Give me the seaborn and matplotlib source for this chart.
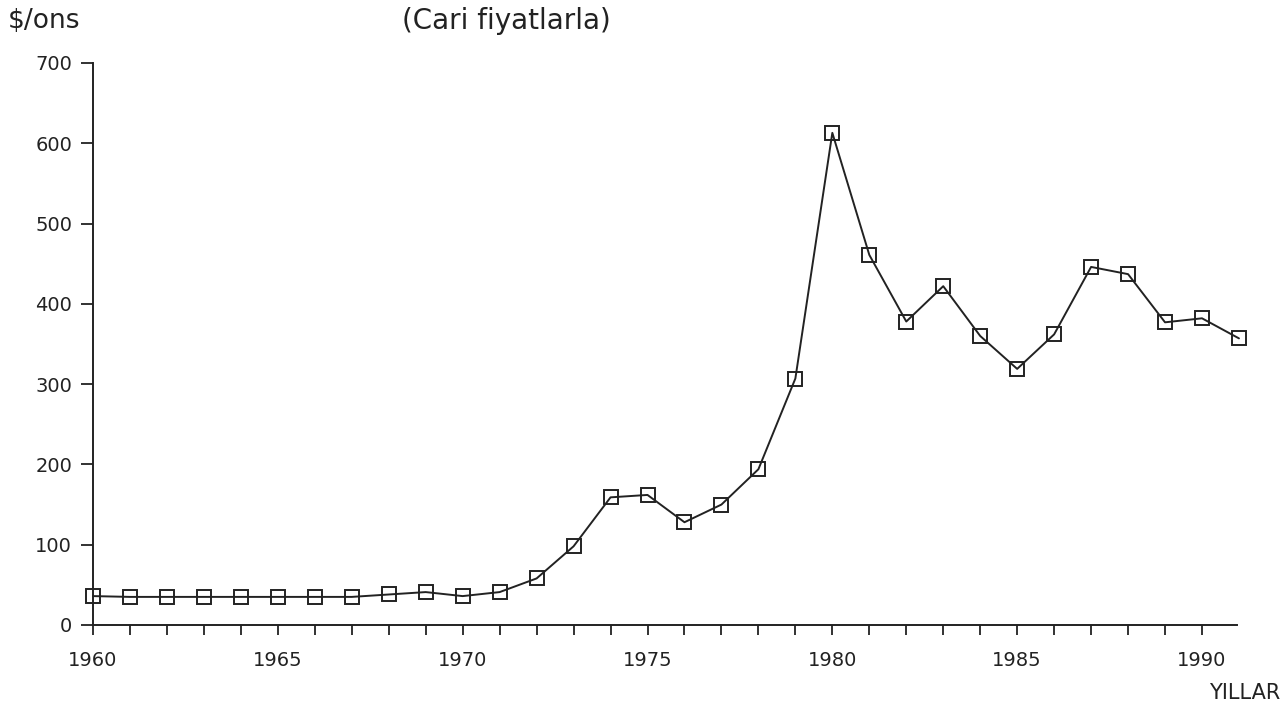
import matplotlib
matplotlib.use("Agg")
import matplotlib.pyplot as plt
import seaborn as sns
import pandas as pd
import numpy as np

years = list(range(1960, 1992))
prices = [36, 35, 35, 35, 35, 35, 35, 35, 38, 41, 36, 41, 58, 98, 159, 162, 128, 150, 194, 307,
          613, 461, 378, 422, 360, 319, 362, 446, 437, 377, 382, 357]
y_ticks = [0, 100, 200, 300, 400, 500, 600, 700]
x_labels = [1960, 1965, 1970, 1975, 1980, 1985, 1990]

df = pd.DataFrame({"Yil": years, "Fiyat": prices})

sns.set_theme(style="white")
plt.rcParams['font.family'] = ['DejaVu Sans']

fig = plt.figure(figsize=(12.87, 7.12), dpi=100)
ax = fig.add_axes([93/1287, 1 - 625/712, (1237-93)/1287, (625-63)/712])

sns.lineplot(data=df, x="Yil", y="Fiyat", ax=ax, color="#222222", linewidth=1.4,
             marker="s", markersize=10, markerfacecolor="none", markeredgecolor="#222222",
             markeredgewidth=1.4, clip_on=False)

ax.set_xlim(1960, 1990 + (1237-1202)/((1202-93)/30))
ax.set_ylim(0, 700)
ax.set_yticks(y_ticks)
ax.set_yticklabels([str(v) for v in y_ticks], fontsize=14)
ax.set_xticks(x_labels)
ax.set_xticklabels([str(v) for v in x_labels], fontsize=14)
ax.set_xticks(years[:-1], minor=True)
ax.tick_params(axis="x", which="both", direction="out", length=7, width=1.3, color="#222222",
               bottom=True, pad=12, labelcolor="#222222")
ax.tick_params(axis="y", which="major", direction="out", length=9, width=1.3, color="#222222",
               left=True, pad=6, labelcolor="#222222")
for s in ["top", "right"]:
    ax.spines[s].set_visible(False)
for s in ["left", "bottom"]:
    ax.spines[s].set_color("#222222")
    ax.spines[s].set_linewidth(1.4)
ax.set_xlabel("")
ax.set_ylabel("")

fig.text(8/1287, 1 - 21/712, "\\$/ons", fontsize=19, color="#222222", va="center", ha="left")
fig.text(506/1287, 1 - 21/712, "(Cari fiyatlarla)", fontsize=20, color="#222222", va="center", ha="center")
fig.text(1280/1287, 1 - 693/712, "YILLAR", fontsize=15, color="#222222", va="center", ha="right")

fig.savefig("out.png", dpi=100, facecolor="white")
